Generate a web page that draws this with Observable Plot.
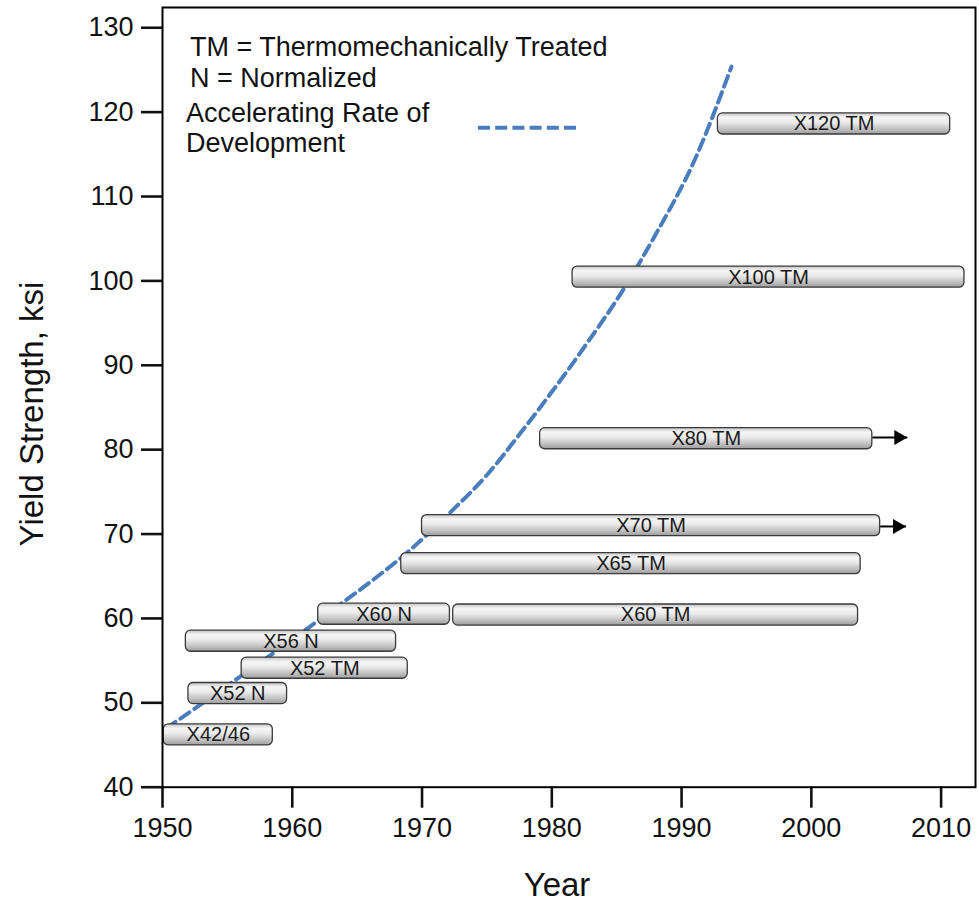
<!DOCTYPE html>
<html>
<head>
<meta charset="utf-8">
<script src="https://cdn.jsdelivr.net/npm/d3@7"></script>
<script src="https://cdn.jsdelivr.net/npm/@observablehq/plot@0.6"></script>
<style>
  html, body { margin: 0; padding: 0; background: #ffffff; }
  #chart { width: 979px; height: 902px; }
</style>
</head>
<body>
<div id="chart"></div>
<script>
// ---- Data ----
const barLabels = ["X42/46", "X52 N", "X52 TM", "X56 N", "X60 N", "X60 TM", "X65 TM", "X70 TM", "X80 TM", "X100 TM", "X120 TM"];
const barStart  = [1950.1, 1952.0, 1956.1, 1951.8, 1962.0, 1972.4, 1968.4, 1970.0, 1979.1, 1981.6, 1992.8];
const barEnd    = [1958.5, 1959.6, 1968.9, 1968.0, 1972.15, 2003.6, 2003.8, 2005.3, 2004.7, 2011.8, 2010.7];
const barKsi    = [46.2, 51.1, 54.1, 57.3, 60.5, 60.4, 66.5, 71.0, 81.3, 100.45, 118.6];

const arrowFrom = [2005.3, 2004.7];
const arrowTo   = [2007.3, 2007.4];
const arrowKsi  = [70.9, 81.45];

const curveYear = [1950.3, 1953.5, 1956.8, 1960.1, 1963.0, 1966.0, 1969.0, 1972.2, 1975.0, 1977.6, 1982.2, 1985.6, 1988.0, 1991.0, 1993.85];
const curveKsi  = [47.0, 50.4, 54.0, 57.6, 60.9, 64.3, 68.0, 72.6, 77.0, 82.0, 91.5, 99.2, 105.5, 114.3, 125.4];

const xTicks = [1950, 1960, 1970, 1980, 1990, 2000, 2010];
const yTicks = [40, 50, 60, 70, 80, 90, 100, 110, 120, 130];

const legendNotes = ["TM = Thermomechanically Treated", "N = Normalized"];
const legendCurve = ["Accelerating Rate of", "Development"];
const xLabel = "Year";
const yLabel = "Yield Strength, ksi";

// ---- Tables built from the arrays ----
const bars = barLabels.map((label, i) => ({label, start: barStart[i], end: barEnd[i], ksi: barKsi[i]}));
const arrows = arrowFrom.map((f, i) => ({from: f, to: arrowTo[i], ksi: arrowKsi[i]}));
const curve = curveYear.map((t, i) => ({year: t, ksi: curveKsi[i]}));

const FONT = "'Liberation Sans', Arial, Helvetica, sans-serif";
const BAR_HALF = 1.25;
const BLUE = "#4a7dbd";

const defsMark = () => {
  const defs = d3.create("svg:defs");
  const g = defs.append("linearGradient").attr("id", "barGrad")
    .attr("x1", 0).attr("y1", 0).attr("x2", 0).attr("y2", 1);
  [[0, "#c4c4c4"], [0.22, "#f6f6f6"], [0.45, "#ebebeb"], [0.8, "#bcbcbc"], [1, "#9c9c9c"]]
    .forEach(([o, c]) => g.append("stop").attr("offset", o).attr("stop-color", c));
  return defs.node();
};

const annotationMark = (index, scales, values, dims) => {
  const g = d3.create("svg:g").attr("font-family", FONT).attr("fill", "#111")
    .attr("text-anchor", "start");
  const L = dims.marginLeft, T = dims.marginTop;
  // legend notes
  legendNotes.forEach((s, i) => {
    g.append("text").attr("x", L + 28).attr("y", T + 49 + i * 30.7)
      .attr("text-anchor", "start").attr("font-size", 27).text(s);
  });
  legendCurve.forEach((s, i) => {
    g.append("text").attr("x", L + 24).attr("y", T + 114.7 + i * 30)
      .attr("text-anchor", "start").attr("font-size", 27).text(s);
  });
  g.append("line")
    .attr("x1", L + 316).attr("x2", L + 414)
    .attr("y1", T + 120.7).attr("y2", T + 120.7)
    .attr("stroke", BLUE).attr("stroke-width", 4)
    .attr("stroke-dasharray", "12,5.2");
  // axis titles
  const bottom = dims.height - dims.marginBottom;
  g.append("text").attr("x", 557).attr("y", bottom + 109)
    .attr("text-anchor", "middle").attr("font-size", 33).text(xLabel);
  g.append("text").attr("transform", `translate(43,414) rotate(-90)`)
    .attr("text-anchor", "middle").attr("font-size", 33).text(yLabel);
  return g.node();
};

const chart = Plot.plot({
  width: 979,
  height: 902,
  marginLeft: 162,
  marginRight: 4,
  marginTop: 7,
  marginBottom: 115.3,
  style: {fontFamily: FONT, fontSize: "27px", background: "#ffffff", color: "#111"},
  x: {domain: [1950, 2012.65]},
  y: {domain: [40, 132.4]},
  marks: [
    defsMark,
    Plot.axisX({ticks: xTicks, tickFormat: d => String(d), tickSize: 21, tickPadding: 10, label: null, strokeWidth: 2.6, fontSize: 27}),
    Plot.axisY({ticks: yTicks, tickSize: 21, tickPadding: 8, label: null, strokeWidth: 2.6, fontSize: 27}),
    Plot.line(curve, {x: "year", y: "ksi", curve: "monotone-x", stroke: BLUE, strokeWidth: 4, strokeDasharray: "11,6"}),
    Plot.link(arrows, {x1: "from", x2: "to", y1: "ksi", y2: "ksi", stroke: "black", strokeWidth: 2}),
    Plot.dot(arrows, {x: "to", y: "ksi", symbol: "triangle", r: 5.6, rotate: 90, fill: "black", stroke: "none", dx: -8.7}),
    Plot.rect(bars, {x1: "start", x2: "end", y1: d => d.ksi - BAR_HALF, y2: d => d.ksi + BAR_HALF,
      rx: 5, fill: "url(#barGrad)", stroke: "#3a3a3a", strokeWidth: 1.3}),
    Plot.text(bars, {x: d => (d.start + d.end) / 2, y: "ksi", text: "label", fontSize: 20, fill: "#1a1a1a"}),
    Plot.frame({stroke: "black", strokeWidth: 2}),
    annotationMark
  ]
});

document.getElementById("chart").appendChild(chart);
</script>
</body>
</html>
